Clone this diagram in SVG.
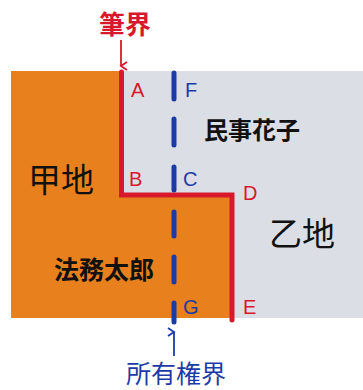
<svg xmlns="http://www.w3.org/2000/svg" width="363" height="390" viewBox="0 0 363 390">
<style>
.lbl{font-family:"Liberation Sans",Arial,sans-serif;font-size:20px}
.red{fill:#D8182C}
.blue{fill:#1D3BA6}
.cjk{font-family:"Noto Sans CJK JP","Noto Sans CJK SC",sans-serif}
</style>
<defs>
<marker id="ahr" markerWidth="10" markerHeight="10" refX="5" refY="8" orient="auto-start-reverse" markerUnits="userSpaceOnUse" viewBox="0 0 10 10">
<path d="M1,2 L5,8 L9,2" fill="none" stroke="#D8182C" stroke-width="1.8"/>
</marker>
<marker id="ahb" markerWidth="10" markerHeight="10" refX="5" refY="8" orient="auto-start-reverse" markerUnits="userSpaceOnUse" viewBox="0 0 10 10">
<path d="M1,2 L5,8 L9,2" fill="none" stroke="#1D3BA6" stroke-width="1.8"/>
</marker>
</defs>
<rect width="363" height="390" fill="#ffffff"/>
<g id="land-otsu"><rect x="11" y="71" width="352" height="247" fill="#DCDEE5"/></g>
<g id="land-kou"><path d="M11,71 H121 V195 H232 V318 H11 Z" fill="#E8801E"/></g>
<g id="connectors">
<path d="M121.5,72 V195 H232 V320" fill="none" stroke="#D8182C" stroke-width="5" stroke-linecap="round" stroke-linejoin="miter"/>
<path d="M174,73 V99 M174,119 V145 M174,167 V190 M174,212 V236 M174,257 V282 M174,303 V322" fill="none" stroke="#1D3BA6" stroke-width="5" stroke-linecap="round"/>
<line x1="121" y1="40" x2="121" y2="66" stroke="#D8182C" stroke-width="1.8" marker-end="url(#ahr)"/>
<line x1="174" y1="356" x2="174" y2="332" stroke="#1D3BA6" stroke-width="1.8" marker-end="url(#ahb)"/>
</g>
<g id="points">
<text class="lbl red" x="131" y="97">A</text>
<text class="lbl blue" x="185" y="97">F</text>
<text class="lbl red" x="129" y="186">B</text>
<text class="lbl blue" x="183" y="186">C</text>
<text class="lbl red" x="243" y="200">D</text>
<text class="lbl red" x="243" y="314">E</text>
<text class="lbl blue" x="183" y="314">G</text>
</g>
<g id="title-hikkai"><text class="cjk red" x="125" y="34" font-size="26" font-weight="bold" text-anchor="middle">筆界</text></g>
<g id="title-shoyuken"><text class="cjk blue" x="176" y="383" font-size="25" text-anchor="middle">所有権界</text></g>
<g id="kouchi"><text class="cjk" x="61" y="192" font-size="33" text-anchor="middle" fill="#111">甲地</text></g>
<g id="otsuchi"><text class="cjk" x="302" y="246" font-size="33" text-anchor="middle" fill="#111">乙地</text></g>
<g id="minji"><text class="cjk" x="252" y="139" font-size="24" font-weight="bold" text-anchor="middle" fill="#111">民事花子</text></g>
<g id="houmu"><text class="cjk" x="104" y="279" font-size="25" font-weight="bold" text-anchor="middle" fill="#111">法務太郎</text></g>
</svg>
